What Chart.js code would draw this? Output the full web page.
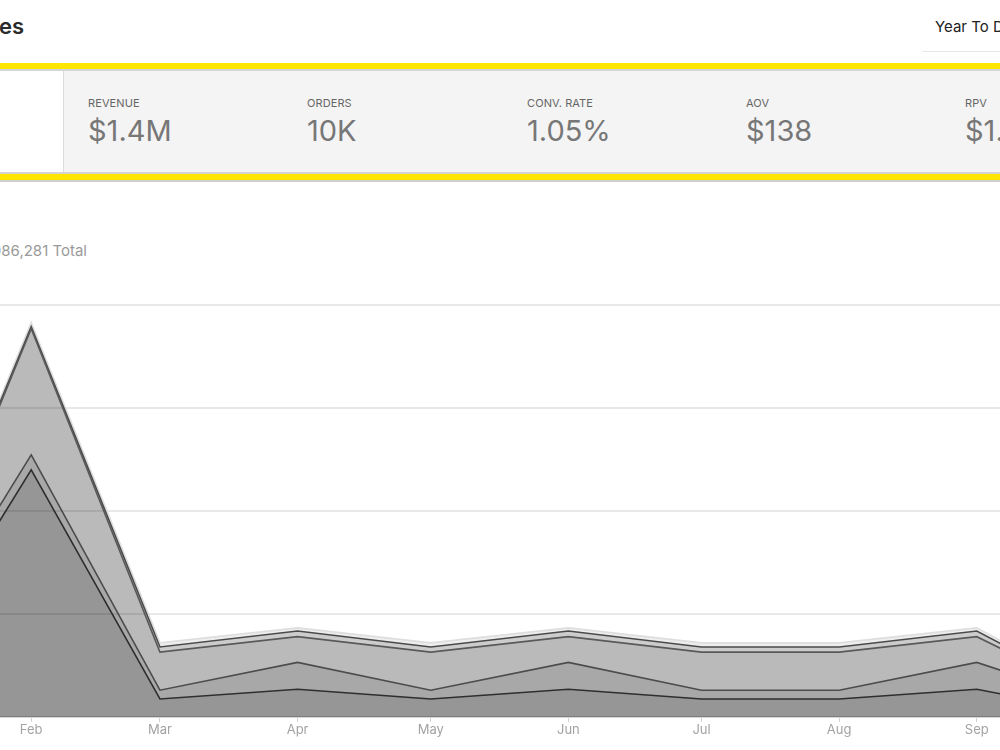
<!DOCTYPE html>
<html>
<head>
<meta charset="utf-8">
<title>Sales</title>
<script src="https://cdn.jsdelivr.net/npm/chart.js@4.4.1/dist/chart.umd.min.js"></script>
<style>
  html, body { margin: 0; padding: 0; background: #fff; }
  body { width: 1000px; height: 750px; overflow: hidden; position: relative; font-family: Inter, "Noto Sans", sans-serif; }
  .title { position: absolute; right: 976px; top: 13px; font-size: 22px; font-weight: 600; color: #2b2b2b; white-space: nowrap; }
  .range { position: absolute; left: 935px; top: 17px; font-size: 15px; color: #222; white-space: nowrap; }
  .range-line { position: absolute; left: 922px; top: 51px; width: 100px; height: 1px; background: #e6e6e6; }
  .band { position: absolute; left: 0; width: 1000px; }
  .yellow { background: #ffe600; height: 6px; }
  .rule { background: #d4d4d4; height: 2px; }
  .panel { top: 71px; height: 101px; background: #f4f4f4; }
  .leftcell { position: absolute; left: 0; top: 71px; width: 63px; height: 101px; background: #fff; border-right: 1px solid #dcdcdc; }
  .kpi { position: absolute; top: 96px; white-space: nowrap; }
  .kpi .lbl { font-size: 11px; color: #666; letter-spacing: 0.1px; }
  .kpi .val { font-size: 29px; color: #777; margin-top: 5px; line-height: 32px; }
  .total { position: absolute; right: 913px; top: 241px; font-size: 15px; color: #9a9a9a; white-space: nowrap; }
  #chartBox { position: absolute; left: -173px; top: 295px; width: 1354px; height: 446px; }
</style>
</head>
<body>

<div class="title">Sales</div>
<div class="range">Year To Date</div>
<div class="range-line"></div>

<div class="band yellow" style="top:63px"></div>
<div class="band rule" style="top:69px"></div>
<div class="band panel"></div>
<div class="leftcell"></div>
<div class="band rule" style="top:172px"></div>
<div class="band yellow" style="top:174px"></div>
<div class="band rule" style="top:180px; background:#cfcfcf"></div>

<div id="kpis"></div>

<div class="total">1,986,281 Total</div>

<div id="chartBox"><canvas id="Chart"></canvas></div>

<script>
'use strict';
// ********************** DATA *********************

// day of year (2020) where each month starts
let monthStarts = [0, 31, 60, 91, 121, 152, 182, 213, 244, 274];
let monthLabels = ['Jan', 'Feb', 'Mar', 'Apr', 'May', 'Jun', 'Jul', 'Aug', 'Sep', 'Oct'];

// values in $ thousands, stacked bottom -> top
let seriesA = [47, 480, 35, 54, 35, 54, 35, 35, 54, 4];
let seriesB = [29, 29, 17, 52, 17, 52, 17, 17, 52, 17];
let seriesC = [25, 245, 74, 50, 74, 50, 74, 74, 50, 8];
let seriesD = [8, 4, 10, 11, 10, 11, 10, 10, 11, 2];
let seriesE = [6, 8, 8, 6, 8, 6, 8, 8, 6, 2];

let yTicks = [0, 200, 400, 600, 800];

let kpiLabels = ['REVENUE', 'ORDERS', 'CONV. RATE', 'AOV', 'RPV'];
let kpiValues = ['$1.4M', '10K', '1.05%', '$138', '$1.45'];
let kpiLeft = [88, 307, 527, 746, 965];

// ********************* KPI STRIP ********************

let kpiElem = document.getElementById('kpis');
kpiLabels.forEach((label, i) => {
  let div = document.createElement('div');
  div.className = 'kpi';
  div.style.left = kpiLeft[i] + 'px';
  div.innerHTML = '<div class="lbl">' + label + '</div><div class="val">' + kpiValues[i] + '</div>';
  kpiElem.appendChild(div);
});

// ********************* CHART ********************

let canvasElem = document.getElementById('Chart');

function toPoints(values) {
  return values.map((v, i) => ({ x: monthStarts[i], y: v }));
}

function renderChart() {
  Chart.defaults.font.family = 'Inter, "Noto Sans", sans-serif';

  let layers = [
    { data: seriesA, fill: 'origin', bg: 'rgba(0,0,0,0.41)', border: '#2e2e2e' },
    { data: seriesB, fill: '-1', bg: 'rgba(0,0,0,0.34)', border: '#4c4c4c' },
    { data: seriesC, fill: '-1', bg: 'rgba(0,0,0,0.27)', border: '#595959' },
    { data: seriesD, fill: '-1', bg: 'rgba(0,0,0,0.20)', border: '#4a4a4a' },
    { data: seriesE, fill: '-1', bg: 'rgba(0,0,0,0.07)', border: '#dedede' },
  ];

  let chartObj = {
    type: 'line',
    data: {
      datasets: layers.map(l => ({
        data: toPoints(l.data),
        fill: l.fill,
        backgroundColor: l.bg,
        borderColor: l.border,
        borderWidth: 1.6,
        pointRadius: 0,
        tension: 0,
      })),
    },
    options: {
      responsive: true,
      maintainAspectRatio: false,
      animation: false,
      layout: { autoPadding: false, padding: { top: 10, bottom: 3.4, left: 0, right: 0 } },
      plugins: { legend: { display: false }, tooltip: { enabled: false } },
      scales: {
        x: {
          type: 'linear',
          min: -15,
          max: 290,
          grid: { drawOnChartArea: false, drawTicks: true, tickLength: 5, color: '#d2d2d2', lineWidth: 1 },
          border: { display: true, color: '#d6d6d6', width: 2 },
          afterBuildTicks: axis => { axis.ticks = monthStarts.map(v => ({ value: v })); },
          ticks: {
            padding: 0,
            color: '#a3a3a3',
            font: { size: 13 },
            maxRotation: 0,
            autoSkip: false,
            callback: value => monthLabels[monthStarts.indexOf(value)],
          },
        },
        y: {
          stacked: true,
          min: 0,
          max: 800,
          afterBuildTicks: axis => { axis.ticks = yTicks.map(v => ({ value: v })); },
          grid: { color: '#e8e8e8', lineWidth: 2, drawTicks: false },
          border: { display: false },
          ticks: { display: false },
        },
      },
    },
  };
  new Chart(canvasElem, chartObj);
}

// ******************** EXECUTABLE CODE **************************
renderChart();
</script>
</body>
</html>
